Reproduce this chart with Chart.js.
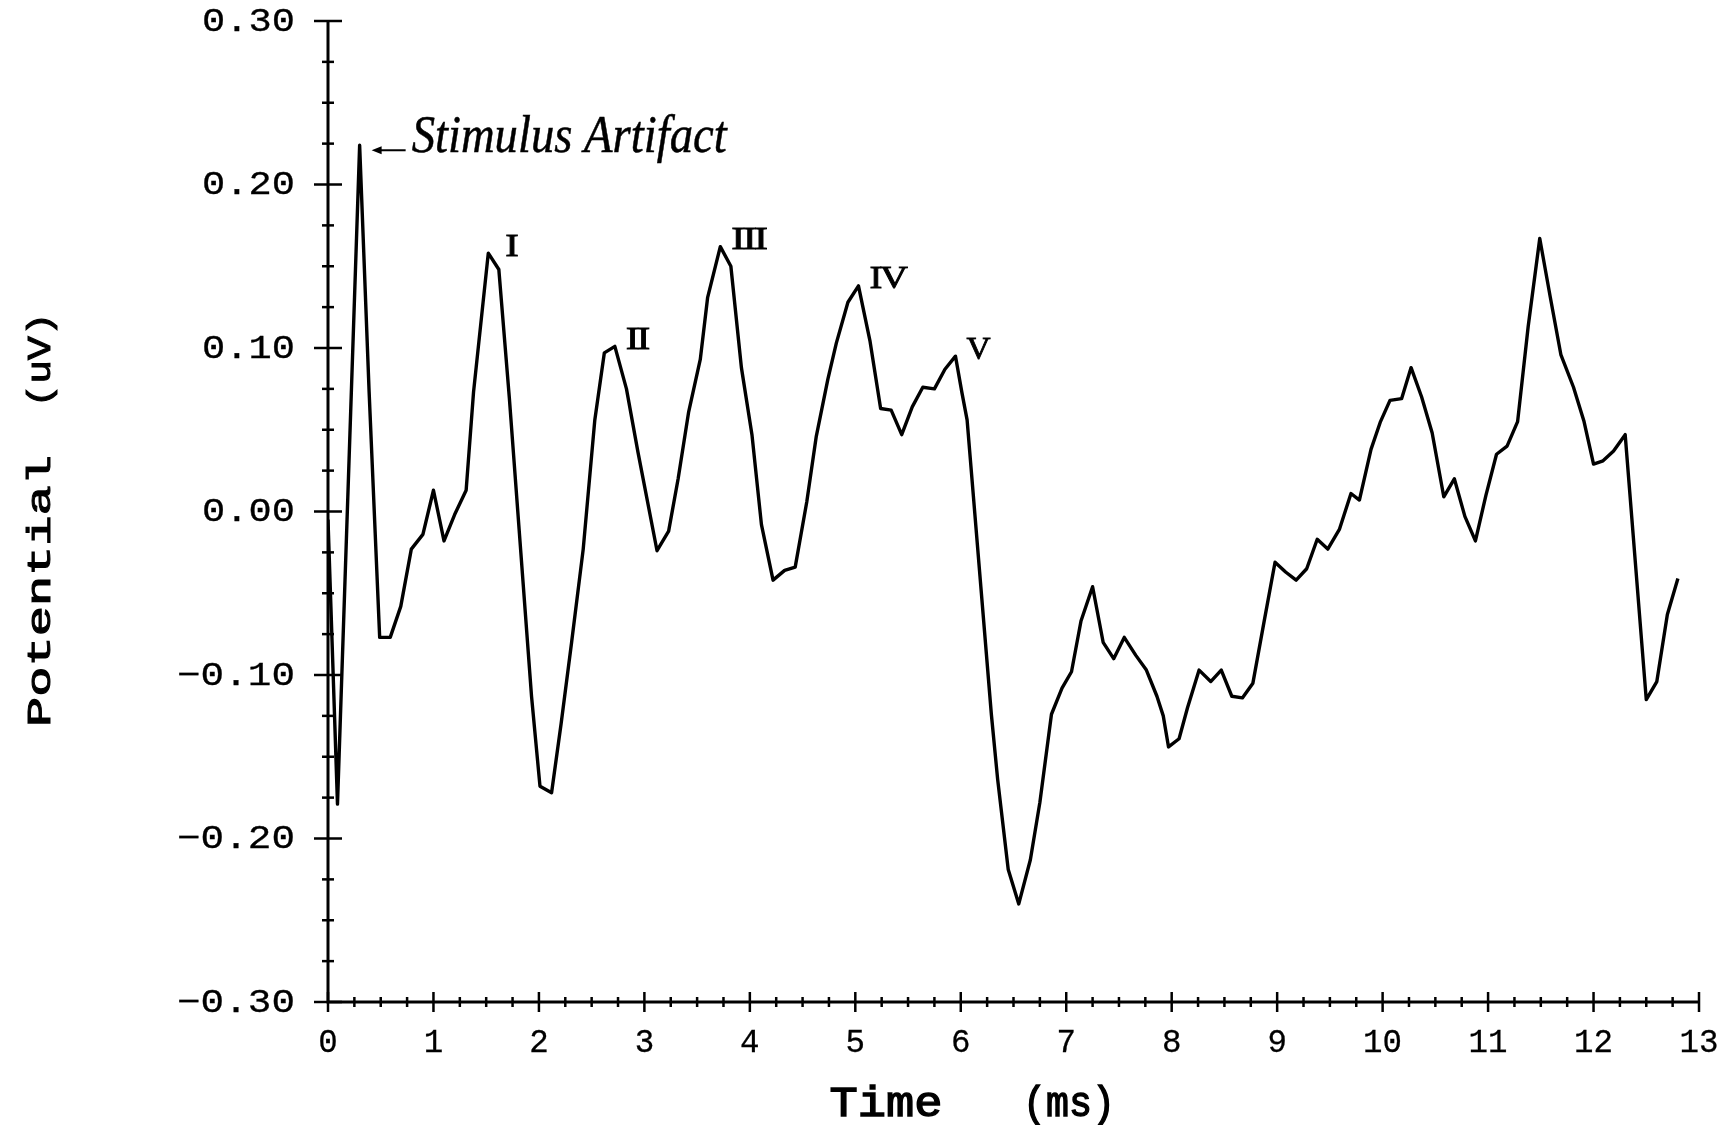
<!DOCTYPE html>
<html>
<head>
<meta charset="utf-8">
<script src="https://cdn.jsdelivr.net/npm/chart.js@4.4.0/dist/chart.umd.min.js"></script>
<style>
  html, body { margin: 0; padding: 0; background: #fff; }
</style>
</head>
<body>
<canvas id="chart" width="1730" height="1125"></canvas>
<script>
// Evoked potential trace — vertices
const timeMs = [
  0.00, 0.09, 0.30, 0.39, 0.49, 0.59, 0.69, 0.79, 0.90, 1.00,
  1.10, 1.20, 1.31, 1.38, 1.52, 1.62, 1.72, 1.93, 2.01, 2.12,
  2.21, 2.31, 2.42, 2.53, 2.62, 2.72, 2.83, 2.94, 3.12, 3.23,
  3.32, 3.42, 3.53, 3.60, 3.72, 3.82, 3.92, 4.02, 4.11, 4.22,
  4.33, 4.43, 4.54, 4.63, 4.74, 4.82, 4.93, 5.03, 5.14, 5.24,
  5.34, 5.44, 5.54, 5.64, 5.75, 5.85, 5.95, 6.01, 6.06, 6.29,
  6.35, 6.45, 6.55, 6.66, 6.75, 6.86, 6.96, 7.05, 7.14, 7.25,
  7.35, 7.45, 7.55, 7.66, 7.76, 7.86, 7.92, 7.97, 8.07, 8.15,
  8.26, 8.37, 8.47, 8.57, 8.67, 8.77, 8.88, 8.98, 9.08, 9.18,
  9.28, 9.38, 9.48, 9.59, 9.70, 9.78, 9.89, 9.98, 10.07, 10.18,
  10.27, 10.37, 10.47, 10.58, 10.68, 10.78, 10.88, 10.98, 11.08, 11.18,
  11.28, 11.38, 11.49, 11.59, 11.69, 11.81, 11.91, 12.00, 12.09, 12.19,
  12.30, 12.50, 12.60, 12.70, 12.80,
];
const potentialUV = [
  -0.005, -0.179, 0.224, 0.073, -0.077, -0.077, -0.058, -0.023, -0.014, 0.013,
  -0.018, -0.002, 0.013, 0.073, 0.158, 0.148, 0.069, -0.113, -0.168, -0.172,
  -0.130, -0.080, -0.023, 0.056, 0.097, 0.101, 0.075, 0.036, -0.024, -0.012,
  0.020, 0.061, 0.093, 0.131, 0.162, 0.150, 0.088, 0.047, -0.008, -0.042,
  -0.036, -0.034, 0.006, 0.046, 0.081, 0.103, 0.128, 0.138, 0.104, 0.063,
  0.062, 0.047, 0.064, 0.076, 0.075, 0.087, 0.095, 0.073, 0.056, -0.124,
  -0.164, -0.219, -0.240, -0.213, -0.178, -0.124, -0.108, -0.098, -0.067, -0.046,
  -0.080, -0.090, -0.077, -0.088, -0.097, -0.113, -0.125, -0.144, -0.139, -0.120,
  -0.097, -0.104, -0.097, -0.113, -0.114, -0.105, -0.066, -0.031, -0.037, -0.042,
  -0.035, -0.017, -0.023, -0.011, 0.011, 0.007, 0.038, 0.055, 0.068, 0.069,
  0.088, 0.070, 0.048, 0.009, 0.020, -0.003, -0.018, 0.010, 0.035, 0.040,
  0.055, 0.113, 0.167, 0.131, 0.096, 0.076, 0.055, 0.029, 0.031, 0.037,
  0.047, -0.115, -0.104, -0.063, -0.041,
];

const xTickLabels = ['0','1','2','3','4','5','6','7','8','9','10','11','12','13'];
const yTickValues = [0.30, 0.20, 0.10, 0.00, -0.10, -0.20, -0.30];

const waveNames = ['I', 'II', 'III', 'IV', 'V'];
const wavePeakTimes = [1.52, 2.72, 3.72, 5.03, 5.95];
const artifactTime = 0.30;
const artifactText = 'Stimulus Artifact';

const MONO = '"Liberation Mono", "DejaVu Sans Mono", monospace';

// draws text squeezed/stretched to a given width
function fitText(ctx, text, x, y, width, align, stroke) {
  const w = ctx.measureText(text).width;
  ctx.save();
  ctx.translate(x, y);
  ctx.scale(width / w, 1);
  ctx.textAlign = align;
  ctx.fillText(text, 0, 0);
  if (stroke) { ctx.lineWidth = stroke; ctx.strokeText(text, 0, 0); }
  ctx.restore();
}

const plotterAxes = {
  id: 'plotterAxes',
  afterDraw(chart) {
    const { ctx, scales: { x, y } } = chart;
    const x0 = x.getPixelForValue(0);
    const y0 = y.getPixelForValue(-0.3);
    ctx.save();
    ctx.strokeStyle = '#000';
    ctx.fillStyle = '#000';
    ctx.lineWidth = 3;
    ctx.lineCap = 'butt';

    // axis lines
    ctx.beginPath();
    ctx.moveTo(x0, y.getPixelForValue(0.3));
    ctx.lineTo(x0, y0);
    ctx.lineTo(x.getPixelForValue(13), y0);
    ctx.stroke();

    // y ticks: major every 0.1, minor every 0.025
    ctx.lineWidth = 2.5;
    for (let i = 0; i <= 24; i++) {
      const py = y.getPixelForValue(-0.3 + i * 0.025);
      const len = i % 4 === 0 ? 14 : 6;
      ctx.beginPath();
      ctx.moveTo(x0 - len, py);
      ctx.lineTo(x0 + len, py);
      ctx.stroke();
    }
    // x ticks: major every 1, minor every 0.25
    for (let i = 0; i <= 52; i++) {
      const px = x.getPixelForValue(i * 0.25);
      const len = i % 4 === 0 ? 10 : 5;
      ctx.beginPath();
      ctx.moveTo(px, y0 - len);
      ctx.lineTo(px, y0 + len);
      ctx.stroke();
    }

    // tick labels
    ctx.font = `33px ${MONO}`;
    ctx.textBaseline = 'middle';
    yTickValues.forEach(v => {
      const txt = v.toFixed(2).replace('-', '\u2212');
      const w = txt.length === 5 ? 118 : 93;
      fitText(ctx, txt, x0 - 33, y.getPixelForValue(v) + 1, w, 'right', 0.3);
    });
    ctx.textBaseline = 'alphabetic';
    xTickLabels.forEach(lbl => {
      fitText(ctx, lbl, x.getPixelForValue(Number(lbl)), y0 + 50, lbl.length * 19.5, 'center', 0.3);
    });

    // axis titles
    ctx.font = `42px ${MONO}`;
    fitText(ctx, 'Time', 886, 1116, 113, 'center', 1.4);
    fitText(ctx, '(ms)', 1069, 1116, 92, 'center', 1.4);

    ctx.save();
    ctx.translate(41, 0);
    ctx.rotate(-Math.PI / 2);
    ctx.font = `34px ${MONO}`;
    ctx.textBaseline = 'middle';
    fitText(ctx, 'Potential', -591, 0, 272, 'center', 1);
    fitText(ctx, '(uV)', -360, 0, 95, 'center', 1);
    ctx.restore();

    // annotations
    const ax = x.getPixelForValue(artifactTime);
    const ay = y.getPixelForValue(0.224);
    ctx.lineWidth = 2;
    ctx.beginPath();
    ctx.moveTo(ax + 18, ay + 5);
    ctx.lineTo(ax + 46, ay + 5);
    ctx.stroke();
    ctx.beginPath();
    ctx.moveTo(ax + 12, ay + 5);
    ctx.lineTo(ax + 22, ay + 1);
    ctx.lineTo(ax + 22, ay + 9);
    ctx.closePath();
    ctx.fill();
    ctx.font = `italic 52px "Liberation Serif", "DejaVu Serif", serif`;
    ctx.textBaseline = 'alphabetic';
    fitText(ctx, artifactText, ax + 52, ay + 7, 315, 'left', 0.5);

    // wave labels: serif numerals with joined bars
    ctx.font = `32px "Liberation Serif", "DejaVu Serif", serif`;
    ctx.textBaseline = 'middle';
    ctx.letterSpacing = '-2px';
    waveNames.forEach((name, i) => {
      const t = wavePeakTimes[i];
      const k = timeMs.indexOf(t);
      const px = x.getPixelForValue(t);
      const py = y.getPixelForValue(potentialUV[k]);
      fitText(ctx, name, px + (i === 0 ? 17 : 11), py - 6, [11, 22, 34, 36, 22][i], 'left', 0.8);
    });
    ctx.letterSpacing = '0px';
    ctx.restore();
  },
};

new Chart(document.getElementById('chart'), {
  type: 'scatter',
  data: {
    datasets: [{
      data: timeMs.map((t, i) => ({ x: t, y: potentialUV[i] })),
      showLine: true,
      borderColor: '#000',
      borderWidth: 3.4,
      borderJoinStyle: 'round',
      pointRadius: 0,
      tension: 0,
      fill: false,
    }],
  },
  options: {
    responsive: false,
    animation: false,
    devicePixelRatio: 1,
    layout: { padding: { left: 328, right: 31, top: 21, bottom: 123 } },
    plugins: {
      legend:  { display: false },
      tooltip: { enabled: false },
    },
    scales: {
      x: { type: 'linear', min: 0, max: 13, display: false },
      y: { type: 'linear', min: -0.3, max: 0.3, display: false },
    },
  },
  plugins: [plotterAxes],
});
</script>
</body>
</html>
